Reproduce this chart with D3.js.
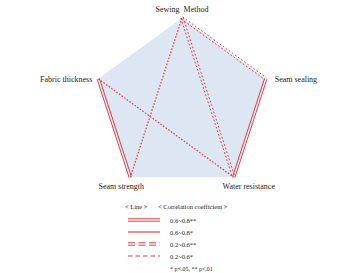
<!DOCTYPE html>
<html>
<head>
<meta charset="utf-8">
<script src="https://cdn.jsdelivr.net/npm/d3@7"></script>
<style>
  body { margin: 0; background: #fff; }
  text { font-family: "Liberation Serif", serif; fill: #222; }
</style>
</head>
<body>
<script>
var width = 357, height = 273;

// axes of the pentagon, clockwise from top
var factors = ["Sewing  Method", "Seam sealing", "Water resistance", "Seam strength", "Fabric thickness"];

// correlation links between factors
var links = [
  {source: "Fabric thickness", target: "Seam strength", level: "0.6~0.8**"},
  {source: "Seam sealing", target: "Water resistance", level: "0.6~0.8**"},
  {source: "Sewing  Method", target: "Seam sealing", level: "0.2~0.6**"},
  {source: "Sewing  Method", target: "Water resistance", level: "0.2~0.6**"},
  {source: "Sewing  Method", target: "Seam strength", level: "0.2~0.6*"},
  {source: "Fabric thickness", target: "Water resistance", level: "0.2~0.6*"}
];

var legendLevels = ["0.6~0.8**", "0.6~0.8*", "0.2~0.6**", "0.2~0.6*"];

var svg = d3.select("body").append("svg")
    .attr("width", width)
    .attr("height", height);

var red = "#e8393f";
var cx = 182, cy = 106, r = 88;

var angle = d3.scalePoint().domain(factors).range([0, 2 * Math.PI * 4 / 5]);
function pos(f) {
  var a = angle(f);
  return [cx + r * Math.sin(a), cy - r * Math.cos(a)];
}

svg.append("polygon")
    .attr("points", factors.map(function (f) { return pos(f).join(","); }).join(" "))
    .attr("fill", "#dde7f3");

// line styles: double = two parallel strokes
var styles = {
  "0.6~0.8**": {double: true, dash: null, ldash: null},
  "0.6~0.8*": {double: false, dash: null, ldash: null},
  "0.2~0.6**": {double: true, dash: "1.8,2", ldash: "7,3.5"},
  "0.2~0.6*": {double: false, dash: "1.6,1.6", ldash: "4.5,3"}
};

function drawLine(g, p0, p1, level, legend) {
  var s = styles[level];
  var dx = p1[0] - p0[0], dy = p1[1] - p0[1];
  var len = Math.sqrt(dx * dx + dy * dy);
  var nx = -dy / len, ny = dx / len;
  var offs = s.double ? [-1.2, 1.2] : [0];
  offs.forEach(function (o) {
    g.append("line")
        .attr("x1", p0[0] + nx * o).attr("y1", p0[1] + ny * o)
        .attr("x2", p1[0] + nx * o).attr("y2", p1[1] + ny * o)
        .attr("stroke", red)
        .attr("stroke-width", s.double ? 1 : 1.2)
        .attr("stroke-dasharray", legend ? s.ldash : s.dash);
  });
}

var lg = svg.append("g");
links.forEach(function (l) {
  drawLine(lg, pos(l.source), pos(l.target), l.level, false);
});

// factor labels
var labelPos = {
  "Sewing  Method": {dx: 0, dy: -6, anchor: "middle"},
  "Seam sealing": {dx: 9, dy: 3.5, anchor: "start"},
  "Water resistance": {dx: 15, dy: 12, anchor: "middle"},
  "Seam strength": {dx: -9, dy: 12, anchor: "middle"},
  "Fabric thickness": {dx: -6, dy: 3.5, anchor: "end"}
};
factors.forEach(function (f) {
  var p = pos(f), lp = labelPos[f];
  svg.append("text")
      .attr("x", p[0] + lp.dx)
      .attr("y", p[1] + lp.dy)
      .attr("text-anchor", lp.anchor)
      .attr("font-size", 8)
      .style("white-space", "pre")
      .text(f);
});

// legend
svg.append("text").attr("x", 125).attr("y", 209).attr("font-size", 6.5).text("< Line >");
svg.append("text").attr("x", 158).attr("y", 209).attr("font-size", 6.5).text("< Correlation coefficient >");

var ly = d3.scalePoint().domain(legendLevels).range([220, 256]);
legendLevels.forEach(function (lv) {
  drawLine(svg, [128, ly(lv)], [160, ly(lv)], lv, true);
  svg.append("text")
      .attr("x", 170)
      .attr("y", ly(lv) + 2.5)
      .attr("font-size", 6.5)
      .attr("fill", "#444")
      .text(lv);
});
svg.append("text").attr("x", 170).attr("y", 271).attr("font-size", 6).text("* p<.05, ** p<.01");
</script>
</body>
</html>
